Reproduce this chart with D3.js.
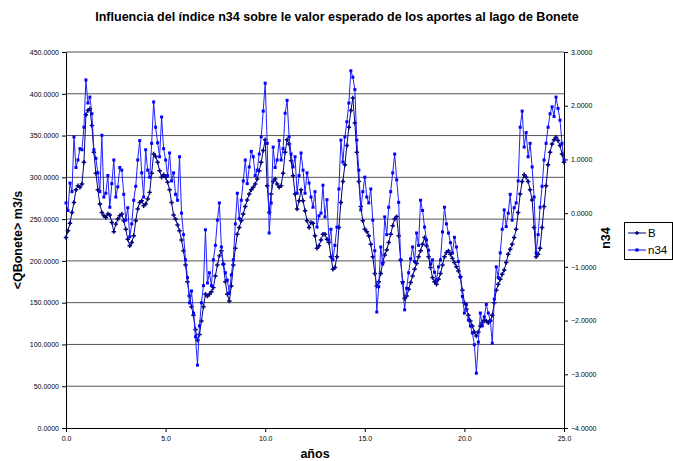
<!DOCTYPE html>
<html>
<head>
<meta charset="utf-8">
<script src="https://cdn.jsdelivr.net/npm/d3@7"></script>
<style>
    body { margin: 0; background: #fff; }
    svg { font-family: "Liberation Sans", Arial, sans-serif; }
</style>
</head>
<body>
<div id="chart"></div>
<script>
// x categories: years, every 0.1 year
var years = d3.range(0, 251).map(function (i) { return +(i * 0.1).toFixed(1); });

// B : expected inflow to lake Bonete (left axis, m3/s)
var seriesB = [
    228, 236, 245, 258, 270, 285, 290, 288, 292, 318,
    375, 380, 382, 362, 330, 305, 285, 268, 258, 254,
    252, 256, 255, 246, 235, 244, 250, 254, 256, 248,
    238, 226, 218, 222, 230, 248, 262, 270, 272, 266,
    268, 274, 282, 305, 328, 325, 318, 308, 300, 303,
    300, 294, 285, 270, 255, 250, 243, 236, 225, 212,
    195, 175, 158, 145, 135, 118, 105, 112, 128, 145,
    160, 158, 160, 163, 168, 182, 195, 206, 212, 196,
    175, 160, 152, 170, 195, 215, 232, 240, 248, 256,
    265, 273, 280, 285, 288, 292, 298, 308, 318, 332,
    345, 290, 258, 280, 295, 298, 292, 288, 290, 305,
    330, 345, 340, 320, 302, 280, 262, 272, 285, 272,
    260, 248, 240, 246, 245, 230, 215, 218, 225, 232,
    232, 226, 222, 205, 190, 192, 205, 240, 270, 295,
    315, 338, 360, 380, 395, 365, 330, 295, 265, 248,
    238, 235, 230, 220, 205, 185, 170, 175, 185, 198,
    207, 213, 222, 232, 242, 250, 253, 230, 201, 175,
    155, 158, 166, 174, 182, 190, 197, 205, 212, 220,
    228, 218, 205, 192, 180, 175, 172, 178, 185, 195,
    205, 210, 212, 208, 203, 198, 193, 188, 181, 165,
    150, 142, 135, 128, 122, 115, 110, 115, 122, 126,
    129, 128, 126, 128, 135, 150, 165, 172, 178, 184,
    189, 198, 208, 214, 220, 228, 238, 258, 280, 295,
    303, 300, 295, 285, 273, 240, 205, 208, 215, 240,
    265, 290, 315, 330, 340, 345, 348, 344, 338, 328,
    318
];

// n34 index (right axis)
var seriesN34 = [
    0.19, 0.05, 0.56, 0.40, 1.42, 0.85, 0.99, 1.20, 1.18, 1.60,
    2.48, 2.05, 2.16, 1.85, 1.18, 1.02, 0.75, 0.40, 1.45, 0.30,
    0.37, 0.70, 0.11, 0.55, 0.99, 0.30, 0.49, 0.85, 0.80, 0.35,
    -0.13, 0.10, -0.44, -0.20, 0.24, 0.50, 0.99, 1.35, 0.75, 0.30,
    1.18, 0.80, 0.67, 1.30, 2.07, 1.60, 1.31, 1.05, 1.79, 1.20,
    0.99, 0.70, 1.12, 0.60, 0.75, 0.35, 0.24, 1.05, 0.00, -0.40,
    -0.87, -1.20, -1.67, -1.45, -1.86, -2.30, -2.83, -2.10, -1.67, -1.35,
    -0.31, -1.30, -1.11, -1.35, -0.87, -0.60, -0.13, 0.19, -0.63, -0.95,
    -1.11, -1.25, -1.49, -1.15, -0.87, -0.20, 0.37, -0.10, 0.24, 0.60,
    0.99, 0.55, 0.86, 1.15, 1.05, 0.70, 0.80, 1.10, 1.42, 1.90,
    2.42, 1.30, -0.37, 0.19, 1.23, 0.85, 0.99, 1.35, 0.99, 1.20,
    1.86, 2.10, 1.42, 1.10, 0.86, 1.05, 0.37, 0.70, 1.12, 0.80,
    0.37, 0.75, 0.56, 0.30, 0.11, 0.40, -0.26, -0.05, 0.00, 0.52,
    -0.07, 0.25, -0.50, -0.30, -0.87, -0.60, -0.26, 0.45, 1.36, 0.95,
    1.42, 1.70, 2.05, 2.65, 2.53, 2.30, 1.36, 0.80, 0.06, 0.40,
    0.67, 0.30, 0.19, 0.45, -0.13, -0.70, -1.84, -1.37, -0.63, -0.95,
    -0.07, -0.40, 0.11, 0.40, 0.75, 1.10, 0.62, 0.20, -0.87, -1.30,
    -1.80, -1.40, -1.11, -0.85, -0.63, -0.90, -0.37, -0.60, 0.24, 0.05,
    -0.26, -0.50, -0.69, -0.95, -0.87, -1.10, -1.24, -1.00, -0.87, -0.35,
    0.11, -0.20, -0.37, -0.55, -0.74, -0.45, -0.63, -0.90, -1.19, -1.55,
    -1.86, -1.70, -1.99, -2.10, -2.23, -2.45, -2.98, -2.40, -1.86, -2.10,
    -1.93, -1.70, -1.86, -2.00, -2.42, -1.60, -1.00, -1.20, -0.74, -0.30,
    0.06, -0.25, 0.00, 0.35, -0.13, 0.10, 0.19, 0.60, 1.60, 1.90,
    1.23, 1.50, 1.05, 1.30, 0.86, 0.30, -0.74, -0.40, 0.11, 0.50,
    0.99, 1.30, 1.60, 1.85, 1.98, 1.80, 2.16, 1.95, 1.73, 1.30,
    0.99
];

var xTicks = [0, 5, 10, 15, 20, 25];
var leftTicks = [0, 50, 100, 150, 200, 250, 300, 350, 400, 450];
var rightTicks = [-4, -3, -2, -1, 0, 1, 2, 3];

var W = 673, H = 461;
var margin = {top: 52, right: 109, bottom: 33, left: 66};
var width = W - margin.left - margin.right;
var height = H - margin.top - margin.bottom;

var svg = d3.select("#chart").append("svg")
    .attr("width", W)
    .attr("height", H);

// title
svg.append("text")
    .attr("x", 337).attr("y", 21)
    .attr("text-anchor", "middle")
    .style("font-size", "12.5px").style("font-weight", "bold")
    .text("Influencia del índice n34 sobre le valor esperado de los aportes al lago de Bonete");

var g = svg.append("g")
    .attr("transform", "translate(" + margin.left + "," + margin.top + ")");

var x = d3.scaleLinear().domain([0, 25]).range([0, width]);
var yL = d3.scaleLinear().domain([0, 450]).range([height, 0]);
var yR = d3.scaleLinear().domain([-4, 3]).range([height, 0]);

// grid lines
g.selectAll(".grid")
    .data(leftTicks.filter(function (d) { return d > 0; }))
    .enter().append("line")
    .attr("class", "grid")
    .attr("x1", 0).attr("x2", width)
    .attr("y1", function (d) { return yL(d); })
    .attr("y2", function (d) { return yL(d); })
    .attr("stroke", "#555").attr("stroke-width", 1);

function styleAxis(sel) {
    sel.selectAll("path").attr("stroke", "#000");
    sel.selectAll("line").attr("stroke", "#000");
    sel.selectAll("text").style("font-size", "7px").attr("fill", "#000");
}

// x axis
g.append("g")
    .attr("transform", "translate(0," + height + ")")
    .call(d3.axisBottom(x).tickValues(xTicks).tickSize(4).tickSizeOuter(0)
        .tickFormat(d3.format(".1f")))
    .call(styleAxis)
    .selectAll("text").attr("dy", "0.9em");

// left axis
g.append("g")
    .call(d3.axisLeft(yL).tickValues(leftTicks).tickSize(4).tickSizeOuter(0)
        .tickFormat(d3.format(".4f")))
    .call(styleAxis);

// right axis
g.append("g")
    .attr("transform", "translate(" + width + ",0)")
    .call(d3.axisRight(yR).tickValues(rightTicks).tickSize(4).tickSizeOuter(0)
        .tickFormat(d3.format(".4f")))
    .call(styleAxis);

// axis titles
svg.append("text")
    .attr("transform", "translate(22,240) rotate(-90)")
    .attr("text-anchor", "middle")
    .style("font-size", "12.5px").style("font-weight", "bold")
    .text("<QBonete> m3/s");

svg.append("text")
    .attr("transform", "translate(610,238) rotate(-90)")
    .attr("text-anchor", "middle")
    .style("font-size", "12.5px").style("font-weight", "bold")
    .text("n34");

svg.append("text")
    .attr("x", 315).attr("y", 458)
    .attr("text-anchor", "middle")
    .style("font-size", "12.5px").style("font-weight", "bold")
    .text("años");

// series
var dataB = years.map(function (t, i) { return {t: t, v: seriesB[i]}; });
var dataN = years.map(function (t, i) { return {t: t, v: seriesN34[i]}; });

var lineB = d3.line()
    .x(function (d) { return x(d.t); })
    .y(function (d) { return yL(d.v); });
var lineN = d3.line()
    .x(function (d) { return x(d.t); })
    .y(function (d) { return yR(d.v); });

g.append("path").datum(dataB)
    .attr("d", lineB)
    .attr("fill", "none").attr("stroke", "#000080").attr("stroke-width", 1);

g.selectAll(".mB").data(dataB).enter().append("path")
    .attr("class", "mB")
    .attr("transform", function (d) { return "translate(" + x(d.t) + "," + yL(d.v) + ")"; })
    .attr("d", d3.symbol().type(d3.symbolCross).size(11))
    .attr("fill", "#000080");

g.append("path").datum(dataN)
    .attr("d", lineN)
    .attr("fill", "none").attr("stroke", "#2020ff").attr("stroke-width", 1);

g.selectAll(".mN").data(dataN).enter().append("path")
    .attr("class", "mN")
    .attr("transform", function (d) { return "translate(" + x(d.t) + "," + yR(d.v) + ")"; })
    .attr("d", d3.symbol().type(d3.symbolSquare).size(9))
    .attr("fill", "#0000ff");

// legend
var legend = svg.append("g").attr("transform", "translate(624,222)");
legend.append("rect")
    .attr("x", 0.5).attr("y", 0.5).attr("width", 48).attr("height", 37)
    .attr("fill", "#fff").attr("stroke", "#000");

var legItems = [
    {name: "B", color: "#000080", sym: d3.symbolCross},
    {name: "n34", color: "#0000ff", sym: d3.symbolSquare}
];
legItems.forEach(function (item, i) {
    var yy = 11 + i * 17;
    legend.append("line")
        .attr("x1", 4).attr("x2", 22).attr("y1", yy).attr("y2", yy)
        .attr("stroke", item.color);
    legend.append("path")
        .attr("transform", "translate(13," + yy + ")")
        .attr("d", d3.symbol().type(item.sym).size(10))
        .attr("fill", item.color);
    legend.append("text")
        .attr("x", 24).attr("y", yy + 4)
        .style("font-size", "11.5px")
        .text(item.name);
});
</script>
</body>
</html>
